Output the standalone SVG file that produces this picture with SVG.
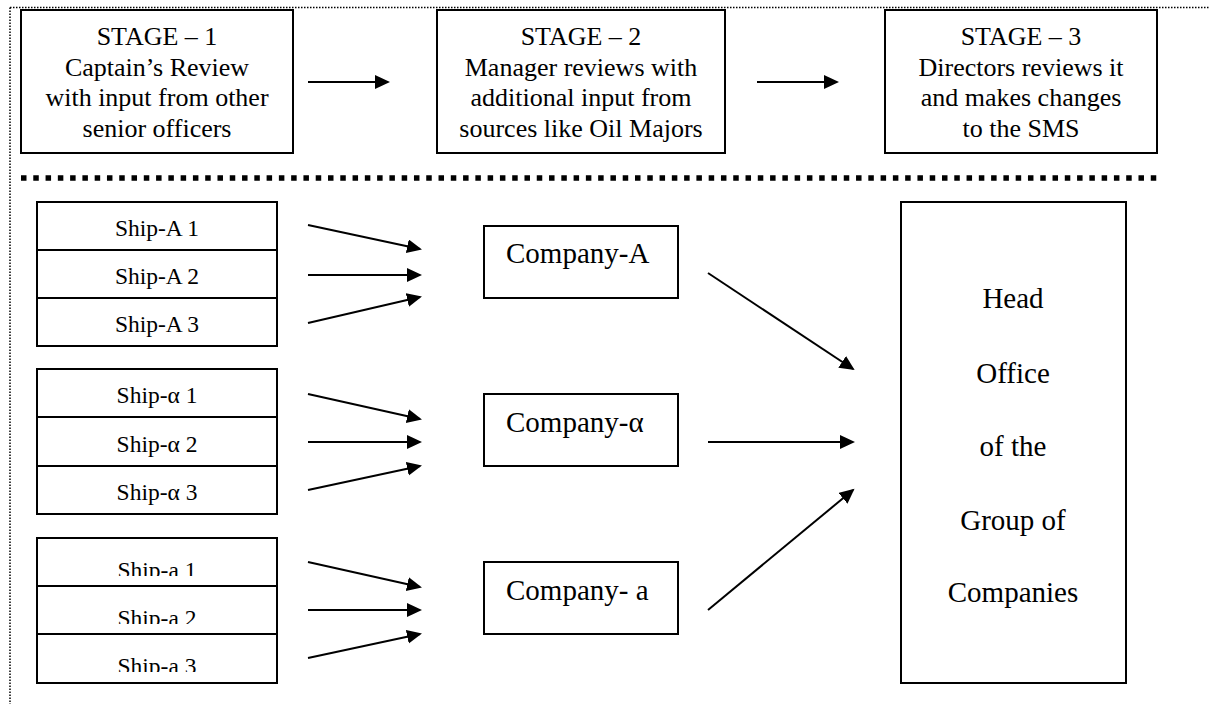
<svg xmlns="http://www.w3.org/2000/svg" width="1209" height="704" viewBox="0 0 1209 704">
  <style>
    .box { fill: #fff; stroke: #000; stroke-width: 2; }
    .row { fill: none; stroke: #000; stroke-width: 2; }
    .stage { font-family: "Liberation Serif", "Times New Roman", serif; font-size: 26px; fill: #000; text-anchor: middle; }
    .ship { font-family: "Liberation Serif", "Times New Roman", serif; font-size: 23.5px; fill: #000; text-anchor: middle; }
    .comp { font-family: "Liberation Serif", "Times New Roman", serif; font-size: 29px; fill: #000; }
    .ho { font-family: "Liberation Serif", "Times New Roman", serif; font-size: 29px; fill: #000; text-anchor: middle; }
    .arrow { stroke: #000; stroke-width: 2; fill: none; marker-end: url(#head); }
    .dots { stroke: #000; stroke-width: 1.5; stroke-dasharray: 1.5 1.5; fill: none; }
  </style>
  <defs>
    <marker id="head" markerUnits="userSpaceOnUse" markerWidth="16" markerHeight="16" refX="13" refY="7" orient="auto">
      <path d="M0,0 L15,7 L0,14 Z" fill="#000"/>
    </marker>
    <!-- the lower text of each "Ship-a" row is cut at the baseline -->
    <clipPath id="shipAClip" clipPathUnits="userSpaceOnUse">
      <rect x="37" y="538" width="240" height="38"/>
      <rect x="37" y="586" width="240" height="38"/>
      <rect x="37" y="634" width="240" height="38"/>
    </clipPath>
  </defs>

  <rect width="1209" height="704" fill="#fff"/>

  <!-- page frame (dotted) and stage separator -->
  <g id="frame">
    <line class="dots" x1="10" y1="7.5" x2="1209" y2="7.5"/>
    <line class="dots" x1="10" y1="7.5" x2="10" y2="704"/>
    <line x1="21" y1="178" x2="1157" y2="178" stroke="#000" stroke-width="5.5" stroke-dasharray="5.5 6.78"/>
  </g>

  <!-- stages -->
  <g id="stage1">
    <rect class="box" x="21" y="10" width="272" height="143"/>
    <text class="stage" x="157" y="45">STAGE – 1</text>
    <text class="stage" x="157" y="75.5">Captain’s Review</text>
    <text class="stage" x="157" y="106">with input from other</text>
    <text class="stage" x="157" y="136.5">senior officers</text>
  </g>
  <g id="stage2">
    <rect class="box" x="437" y="10" width="288" height="143"/>
    <text class="stage" x="581" y="45">STAGE – 2</text>
    <text class="stage" x="581" y="75.5">Manager reviews with</text>
    <text class="stage" x="581" y="106">additional input from</text>
    <text class="stage" x="581" y="136.5">sources like Oil Majors</text>
  </g>
  <g id="stage3">
    <rect class="box" x="885" y="10" width="272" height="143"/>
    <text class="stage" x="1021" y="45">STAGE – 3</text>
    <text class="stage" x="1021" y="75.5">Directors reviews it</text>
    <text class="stage" x="1021" y="106">and makes changes</text>
    <text class="stage" x="1021" y="136.5">to the SMS</text>
  </g>

  <!-- ship groups -->
  <g id="ships-A">
    <rect class="row" x="37" y="202" width="240" height="144"/>
    <line class="row" x1="37" y1="250" x2="277" y2="250"/>
    <line class="row" x1="37" y1="298" x2="277" y2="298"/>
    <text class="ship" x="157" y="236">Ship-A 1</text>
    <text class="ship" x="157" y="284">Ship-A 2</text>
    <text class="ship" x="157" y="332">Ship-A 3</text>
  </g>
  <g id="ships-alpha">
    <rect class="row" x="37" y="369" width="240" height="145"/>
    <line class="row" x1="37" y1="417" x2="277" y2="417"/>
    <line class="row" x1="37" y1="466" x2="277" y2="466"/>
    <text class="ship" x="157" y="403">Ship-α 1</text>
    <text class="ship" x="157" y="452">Ship-α 2</text>
    <text class="ship" x="157" y="500">Ship-α 3</text>
  </g>
  <g id="ships-a">
    <rect class="row" x="37" y="538" width="240" height="145"/>
    <line class="row" x1="37" y1="586" x2="277" y2="586"/>
    <line class="row" x1="37" y1="634" x2="277" y2="634"/>
    <g clip-path="url(#shipAClip)">
      <text class="ship" x="157" y="578">Ship-a 1</text>
      <text class="ship" x="157" y="626">Ship-a 2</text>
      <text class="ship" x="157" y="674">Ship-a 3</text>
    </g>
  </g>

  <!-- companies -->
  <g id="company-A">
    <rect class="box" x="484" y="226" width="194" height="72"/>
    <text class="comp" x="506" y="263">Company-A</text>
  </g>
  <g id="company-alpha">
    <rect class="box" x="484" y="394" width="194" height="72"/>
    <text class="comp" x="506" y="432">Company-α</text>
  </g>
  <g id="company-a">
    <rect class="box" x="484" y="562" width="194" height="72"/>
    <text class="comp" x="506" y="600">Company- a</text>
  </g>

  <!-- head office -->
  <g id="head-office">
    <rect class="box" x="901" y="202" width="225" height="481"/>
    <text class="ho" x="1013" y="308">Head</text>
    <text class="ho" x="1013" y="383">Office</text>
    <text class="ho" x="1013" y="456">of the</text>
    <text class="ho" x="1013" y="530">Group of</text>
    <text class="ho" x="1013" y="602">Companies</text>
  </g>

  <!-- connectors -->
  <g id="connectors">
    <line class="arrow" x1="308" y1="82" x2="388" y2="82"/>
    <line class="arrow" x1="757" y1="82" x2="837" y2="82"/>

    <line class="arrow" x1="308" y1="225" x2="420" y2="249"/>
    <line class="arrow" x1="308" y1="275" x2="420" y2="275"/>
    <line class="arrow" x1="308" y1="323" x2="420" y2="297"/>

    <line class="arrow" x1="308" y1="394" x2="420" y2="419"/>
    <line class="arrow" x1="308" y1="442" x2="420" y2="442"/>
    <line class="arrow" x1="308" y1="490" x2="420" y2="466"/>

    <line class="arrow" x1="308" y1="562" x2="420" y2="587"/>
    <line class="arrow" x1="308" y1="610" x2="420" y2="610"/>
    <line class="arrow" x1="308" y1="658" x2="420" y2="634"/>

    <line class="arrow" x1="708" y1="273" x2="853" y2="369"/>
    <line class="arrow" x1="708" y1="442" x2="853" y2="442"/>
    <line class="arrow" x1="708" y1="610" x2="853" y2="490"/>
  </g>
</svg>
